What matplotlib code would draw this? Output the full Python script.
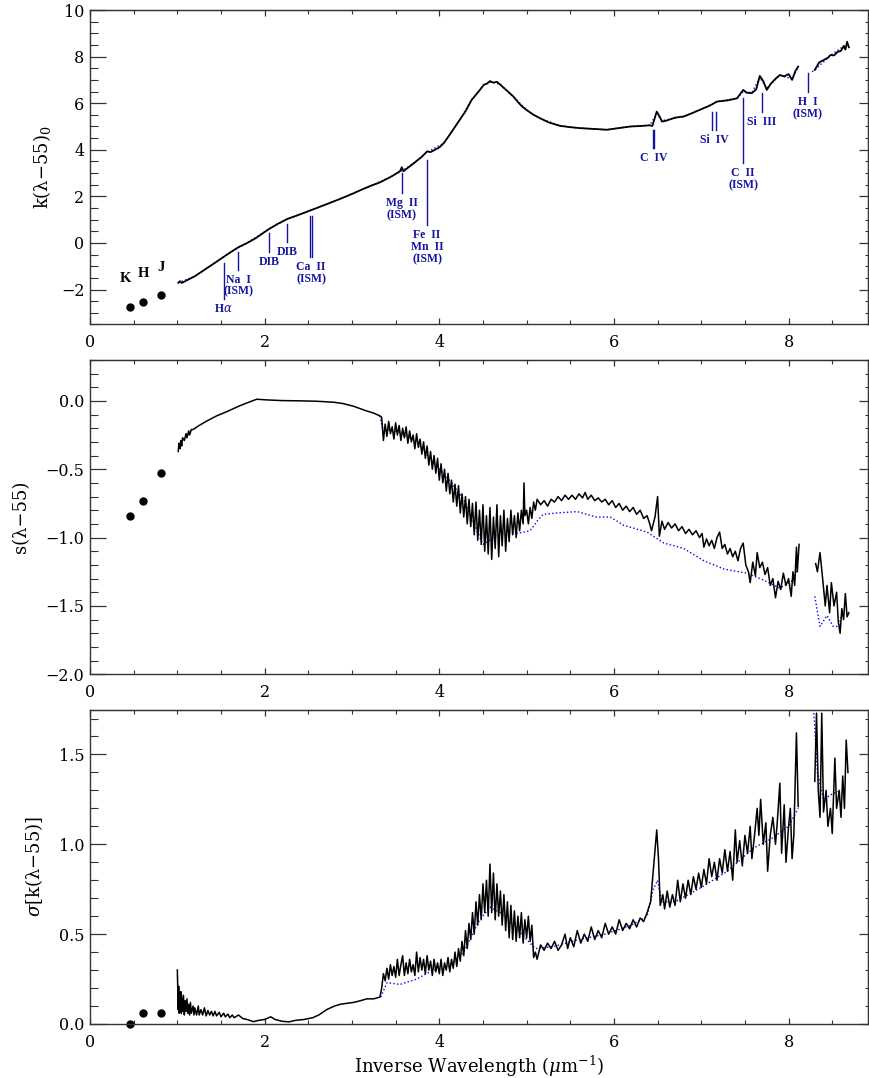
import numpy as np
import matplotlib
matplotlib.use("Agg")
import matplotlib.pyplot as plt
from matplotlib.ticker import MultipleLocator, FuncFormatter

plt.rcParams['font.family'] = ['DejaVu Serif']
plt.rcParams['mathtext.fontset'] = 'dejavuserif'

nan = np.nan

# ========================
# datos
# ========================

# fotometria K, H, J
x_khj = [0.46, 0.61, 0.81]
nombres_khj = ["K", "H", "J"]
k_khj = [-2.74, -2.53, -2.25]
s_khj = [-0.84, -0.73, -0.53]
sig_khj = [0.0, 0.06, 0.06]

# panel 1: k(lambda-55)_0
x_k = [1.01, 1.03, 1.05, 1.10, 1.20, 1.30, 1.40, 1.53, 1.60, 1.70, 1.80, 1.90, 2.00, 2.05,
       2.15, 2.26, 2.40, 2.54, 2.70, 2.85, 2.98, 3.10, 3.20, 3.32, 3.45, 3.55, 3.57, 3.59,
       3.70, 3.80, 3.86, 3.90, 4.00, 4.05, 4.12, 4.22, 4.30, 4.37, 4.45, 4.51, 4.55, 4.58,
       4.62, 4.66, 4.70, 4.75, 4.80, 4.85, 4.90, 4.95, 5.00, 5.07, 5.15, 5.25, 5.38, 5.50,
       5.61, 5.75, 5.92, 6.05, 6.19, 6.30, 6.41, 6.44, 6.49, 6.52, 6.55, 6.60, 6.70, 6.80,
       6.90, 7.03, 7.10, 7.18, 7.30, 7.41, 7.48, 7.52, 7.58, 7.63, 7.67, 7.71, 7.75, 7.80,
       7.85, 7.90, 7.95, 8.00, 8.04, 8.08, 8.11, 8.20, 8.30, 8.35, 8.40, 8.45, 8.48, 8.52,
       8.56, 8.60, 8.63, 8.65, 8.67, 8.69]
k_val = [-1.71, -1.64, -1.72, -1.62, -1.43, -1.18, -0.93, -0.60, -0.42, -0.18, 0.00, 0.21,
         0.47, 0.60, 0.82, 1.03, 1.22, 1.42, 1.65, 1.87, 2.07, 2.27, 2.43, 2.60, 2.85, 3.08,
         3.25, 3.08, 3.40, 3.70, 3.93, 3.90, 4.10, 4.28, 4.65, 5.21, 5.65, 6.14, 6.50, 6.79,
         6.85, 6.95, 6.88, 6.92, 6.79, 6.62, 6.45, 6.28, 6.05, 5.85, 5.71, 5.52, 5.36, 5.18,
         5.03, 4.97, 4.93, 4.90, 4.86, 4.93, 5.00, 5.02, 5.05, 5.02, 5.64, 5.45, 5.21, 5.25,
         5.38, 5.43, 5.58, 5.79, 5.90, 6.07, 6.12, 6.21, 6.57, 6.45, 6.43, 6.60, 7.17, 6.95,
         6.57, 6.85, 7.05, 7.21, 7.15, 7.25, 7.00, 7.40, 7.57, nan, 7.43, 7.75, 7.85, 7.95,
         8.07, 8.05, 8.20, 8.25, 8.45, 8.30, 8.64, 8.40]

x_k_mod = [1.01, 1.20, 1.40, 1.60, 1.80, 2.05, 2.26, 2.54, 2.85, 3.20, 3.45, 3.55, 3.70,
           3.86, 4.05, 4.22, 4.37, 4.51, 4.60, 4.70, 4.85, 5.00, 5.15, 5.38, 5.61, 5.92,
           6.19, 6.41, 6.49, 6.55, 6.80, 7.03, 7.18, 7.41, 7.48, 7.58, 7.67, 7.75, 7.90,
           8.04, 8.11, 8.20, 8.27, 8.30, 8.48, 8.67]
k_mod = [-1.71, -1.43, -0.93, -0.42, 0.00, 0.60, 1.03, 1.42, 1.87, 2.43, 2.85, 3.05, 3.40,
         3.90, 4.28, 5.21, 6.14, 6.79, 6.92, 6.79, 6.28, 5.71, 5.36, 5.03, 4.93, 4.86,
         5.00, 5.05, 5.55, 5.25, 5.43, 5.79, 6.07, 6.21, 6.50, 6.45, 7.10, 6.65, 7.20,
         7.05, 7.55, nan, 7.35, 7.43, 8.05, 8.55]

# lineas espectrales marcadas
lineas_nombre = [r"H$\alpha$", "Na  I\n(ISM)", "DIB", "DIB", "Ca  II\n(ISM)", "Mg  II\n(ISM)",
                 "Fe  II\nMn  II\n(ISM)", "C  IV", "Si  IV", "C  II\n(ISM)", "Si  III",
                 "H  I\n(ISM)"]
lineas_x = [[1.53], [1.70], [2.05], [2.26], [2.52, 2.545], [3.57], [3.86], [6.445, 6.46],
            [7.12, 7.17], [7.48], [7.69], [8.22]]
lineas_arriba = [-0.84, -0.37, 0.44, 0.83, 1.17, 3.01, 3.57, 4.86, 5.63, 6.23, 6.44, 7.30]
lineas_abajo = [-2.39, -1.14, -0.37, 0.06, -0.59, 2.16, 0.78, 4.08, 4.86, 3.44, 5.63, 6.49]

# panel 2: s(lambda-55)
x_s = [1.01, 1.02, 1.03, 1.04, 1.05, 1.06, 1.08, 1.10, 1.11, 1.13, 1.14, 1.16, 1.18, 1.25,
       1.33, 1.45, 1.57, 1.70, 1.79, 1.91, 2.02, 2.20, 2.41, 2.60, 2.79, 2.90, 3.02, 3.15,
       3.25, 3.32,
       3.34, 3.36, 3.38, 3.40, 3.42, 3.44, 3.46, 3.48, 3.50, 3.52, 3.54, 3.56, 3.58, 3.60,
       3.62, 3.64, 3.66, 3.68, 3.70, 3.72, 3.74, 3.76, 3.78, 3.80, 3.82, 3.84, 3.86, 3.88,
       3.90, 3.92, 3.94, 3.96, 3.98, 4.00, 4.02, 4.04, 4.06, 4.08, 4.10, 4.12, 4.14, 4.16,
       4.18, 4.20, 4.22, 4.24, 4.26, 4.28, 4.30, 4.32, 4.34, 4.36, 4.38, 4.40, 4.42, 4.44,
       4.46, 4.48, 4.50, 4.52, 4.54, 4.56, 4.58, 4.60, 4.62, 4.64, 4.66, 4.68, 4.70, 4.72,
       4.74, 4.76, 4.78, 4.80, 4.82, 4.84, 4.86, 4.88, 4.90, 4.92, 4.94, 4.96, 4.97, 4.98,
       5.00, 5.02, 5.04, 5.06, 5.08, 5.10, 5.12,
       5.16, 5.20, 5.24, 5.28, 5.32, 5.36, 5.40, 5.44, 5.48, 5.52, 5.56, 5.60, 5.64, 5.67,
       5.70, 5.74, 5.78, 5.82, 5.86, 5.90, 5.94, 5.98, 6.02, 6.06, 6.10, 6.14, 6.18, 6.22,
       6.26, 6.30, 6.34, 6.38, 6.41, 6.43, 6.47, 6.50, 6.52, 6.55, 6.58, 6.62, 6.66, 6.70,
       6.74, 6.78, 6.82, 6.86, 6.90, 6.94, 6.98, 7.01, 7.03, 7.06, 7.09, 7.12, 7.15, 7.18,
       7.21, 7.24, 7.27, 7.30, 7.33, 7.36, 7.39, 7.42, 7.45, 7.48, 7.51, 7.54, 7.56, 7.59,
       7.62, 7.64, 7.67, 7.70, 7.73, 7.76, 7.79, 7.82, 7.85, 7.88, 7.91, 7.94, 7.97, 8.00,
       8.03, 8.05, 8.07, 8.09, 8.10, 8.12, 8.20,
       8.31, 8.33, 8.36, 8.39, 8.42, 8.44, 8.47, 8.49, 8.52, 8.55, 8.57, 8.59, 8.61, 8.63,
       8.65, 8.67, 8.69]
s_val = [-0.37, -0.31, -0.35, -0.29, -0.33, -0.27, -0.29, -0.24, -0.27, -0.22, -0.25,
         -0.21, -0.21, -0.18, -0.15, -0.11, -0.078, -0.04, -0.017, 0.012, 0.007, 0.002,
         0.0, -0.003, -0.01, -0.02, -0.04, -0.07, -0.09, -0.11,
         -0.12, -0.29, -0.17, -0.26, -0.15, -0.24, -0.19, -0.28, -0.16, -0.25, -0.18, -0.29,
         -0.20, -0.27, -0.19, -0.31, -0.22, -0.30, -0.25, -0.35, -0.24, -0.34, -0.28, -0.39,
         -0.30, -0.42, -0.33, -0.47, -0.37, -0.50, -0.40, -0.53, -0.42, -0.58, -0.46, -0.60,
         -0.50, -0.66, -0.53, -0.68, -0.58, -0.74, -0.61, -0.77, -0.62, -0.82, -0.68, -0.85,
         -0.70, -0.90, -0.72, -0.92, -0.75, -0.98, -0.74, -1.02, -0.80, -1.05, -0.76, -1.10,
         -0.84, -1.12, -0.78, -1.16, -0.85, -1.08, -0.76, -1.14, -0.84, -1.06, -0.80, -1.10,
         -0.86, -1.03, -0.80, -0.98, -0.84, -1.00, -0.82, -0.95, -0.80, -0.90, -0.60, -0.84,
         -0.80, -0.90, -0.78, -0.86, -0.74, -0.80, -0.72,
         -0.76, -0.73, -0.77, -0.72, -0.74, -0.70, -0.73, -0.69, -0.72, -0.69, -0.72, -0.68,
         -0.71, -0.67, -0.72, -0.69, -0.73, -0.71, -0.74, -0.72, -0.76, -0.73, -0.78, -0.75,
         -0.80, -0.77, -0.81, -0.78, -0.83, -0.80, -0.86, -0.84, -0.90, -0.95, -0.85, -0.70,
         -0.99, -0.88, -0.94, -0.89, -0.93, -0.90, -0.95, -0.92, -0.97, -0.94, -0.98, -0.95,
         -1.00, -0.97, -1.07, -1.01, -1.06, -1.02, -1.08, -1.00, -0.96, -1.08, -1.05, -1.12,
         -1.08, -1.14, -1.10, -1.17, -1.08, -1.04, -1.20, -1.25, -1.33, -1.18, -1.28, -1.11,
         -1.22, -1.18, -1.27, -1.22, -1.35, -1.30, -1.44, -1.32, -1.38, -1.26, -1.35, -1.30,
         -1.43, -1.25, -1.35, -1.07, -1.25, -1.05, nan,
         -1.19, -1.25, -1.11, -1.30, -1.50, -1.35, -1.55, -1.33, -1.50, -1.40, -1.62, -1.70,
         -1.52, -1.60, -1.41, -1.58, -1.55]

x_s_mod = [3.32, 3.35, 3.55, 3.74, 3.93, 4.09, 4.28, 4.40, 4.50, 4.58, 4.66, 4.80, 4.89,
           5.04, 5.12, 5.19, 5.35, 5.58, 5.80, 5.96, 6.11, 6.38, 6.57, 6.80, 7.03, 7.26,
           7.52, 7.71, 7.90, 8.06, 8.10, 8.20, 8.30, 8.36, 8.44, 8.51, 8.57, 8.62]
s_mod = [-0.11, -0.20, -0.23, -0.30, -0.45, -0.56, -0.72, -0.90, -1.05, -1.02, -0.98,
         -0.96, -0.97, -0.95, -0.88, -0.83, -0.82, -0.81, -0.85, -0.85, -0.91, -0.96, -1.04,
         -1.08, -1.17, -1.23, -1.26, -1.31, -1.37, -1.31, -1.22, nan, -1.43, -1.65, -1.57,
         -1.65, -1.65, -1.55]

# panel 3: sigma[k(lambda-55)]
x_sig = [1.00, 1.01, 1.015, 1.02, 1.025, 1.03, 1.04, 1.045, 1.05, 1.06, 1.07, 1.08, 1.09,
         1.10, 1.11, 1.12, 1.13, 1.14, 1.15, 1.16, 1.18, 1.19, 1.20, 1.22, 1.24, 1.25, 1.27,
         1.29, 1.31, 1.33, 1.35, 1.37, 1.39, 1.41, 1.43, 1.45, 1.48, 1.50, 1.53, 1.55, 1.58,
         1.60, 1.63, 1.65, 1.70, 1.75, 1.80, 1.87, 1.93, 2.00, 2.07, 2.12, 2.20, 2.28, 2.35,
         2.45, 2.55, 2.62, 2.71, 2.80, 2.87, 2.94, 3.02, 3.10, 3.17, 3.25, 3.32,
         3.34, 3.36, 3.38, 3.40, 3.42, 3.44, 3.46, 3.48, 3.50, 3.52, 3.54, 3.56, 3.58, 3.60,
         3.62, 3.64, 3.66, 3.68, 3.70, 3.72, 3.74, 3.76, 3.78, 3.80, 3.82, 3.84, 3.86, 3.88,
         3.90, 3.92, 3.94, 3.96, 3.98, 4.00, 4.02, 4.04, 4.06, 4.08, 4.10, 4.12, 4.14, 4.16,
         4.18, 4.20, 4.22, 4.24, 4.26, 4.28, 4.30, 4.32, 4.34, 4.36, 4.38, 4.40, 4.42, 4.44,
         4.46, 4.48, 4.50, 4.52, 4.54, 4.56, 4.58, 4.60, 4.62, 4.64, 4.66, 4.68, 4.70, 4.72,
         4.74, 4.76, 4.78, 4.80, 4.82, 4.84, 4.86, 4.88, 4.90, 4.92, 4.94, 4.96, 4.98, 5.00,
         5.02, 5.04, 5.06, 5.08, 5.10, 5.12,
         5.16, 5.20, 5.24, 5.28, 5.32, 5.36, 5.40, 5.44, 5.47, 5.50, 5.54, 5.58, 5.62, 5.66,
         5.70, 5.74, 5.78, 5.82, 5.86, 5.90, 5.94, 5.98, 6.02, 6.06, 6.10, 6.14, 6.18, 6.22,
         6.26, 6.30, 6.34, 6.38, 6.42, 6.45, 6.49, 6.51, 6.53, 6.56, 6.58, 6.61, 6.64, 6.67,
         6.70, 6.73, 6.76, 6.79, 6.82, 6.85, 6.88, 6.91, 6.94, 6.97, 7.00, 7.03, 7.06, 7.09,
         7.12, 7.15, 7.18, 7.21, 7.24, 7.27, 7.30, 7.33, 7.36, 7.39, 7.41, 7.44, 7.47, 7.50,
         7.53, 7.56, 7.58, 7.61, 7.64, 7.66, 7.68, 7.71, 7.74, 7.76, 7.79, 7.82, 7.85, 7.87,
         7.90, 7.92, 7.95, 7.97, 8.00, 8.02, 8.04, 8.06, 8.09, 8.11, 8.20,
         8.30, 8.32, 8.34, 8.36, 8.38, 8.40, 8.43, 8.45, 8.48, 8.50, 8.53, 8.55, 8.58, 8.60,
         8.62, 8.64, 8.66, 8.68]
sig_val = [0.30, 0.08, 0.21, 0.06, 0.17, 0.09, 0.18, 0.06, 0.15, 0.07, 0.16, 0.05, 0.13,
           0.07, 0.14, 0.06, 0.11, 0.05, 0.12, 0.06, 0.10, 0.05, 0.09, 0.05, 0.10, 0.05,
           0.08, 0.05, 0.09, 0.045, 0.075, 0.05, 0.07, 0.045, 0.07, 0.045, 0.065, 0.04,
           0.06, 0.04, 0.055, 0.035, 0.05, 0.035, 0.05, 0.03, 0.025, 0.013, 0.02, 0.025,
           0.04, 0.025, 0.015, 0.012, 0.02, 0.025, 0.035, 0.05, 0.08, 0.10, 0.11, 0.115,
           0.12, 0.13, 0.14, 0.14, 0.15,
           0.20, 0.28, 0.24, 0.31, 0.25, 0.33, 0.27, 0.32, 0.26, 0.36, 0.27, 0.33, 0.38, 0.27,
           0.34, 0.28, 0.36, 0.29, 0.33, 0.27, 0.40, 0.29, 0.37, 0.30, 0.36, 0.28, 0.38, 0.30,
           0.35, 0.27, 0.36, 0.29, 0.34, 0.28, 0.36, 0.27, 0.34, 0.30, 0.37, 0.29, 0.36, 0.31,
           0.40, 0.32, 0.42, 0.35, 0.46, 0.38, 0.52, 0.42, 0.56, 0.47, 0.62, 0.50, 0.68, 0.55,
           0.72, 0.58, 0.78, 0.62, 0.80, 0.60, 0.89, 0.62, 0.84, 0.58, 0.78, 0.60, 0.74, 0.55,
           0.72, 0.52, 0.68, 0.48, 0.66, 0.47, 0.63, 0.46, 0.60, 0.48, 0.62, 0.45, 0.58, 0.48,
           0.60, 0.46, 0.55, 0.37, 0.40, 0.36,
           0.44, 0.41, 0.45, 0.42, 0.46, 0.41, 0.44, 0.50, 0.42, 0.48, 0.43, 0.52, 0.45, 0.50,
           0.46, 0.54, 0.47, 0.52, 0.48, 0.56, 0.50, 0.54, 0.50, 0.58, 0.52, 0.56, 0.53, 0.58,
           0.54, 0.59, 0.57, 0.62, 0.68, 0.85, 1.08, 0.92, 0.66, 0.72, 0.64, 0.74, 0.65, 0.72,
           0.66, 0.80, 0.68, 0.78, 0.70, 0.80, 0.72, 0.82, 0.75, 0.84, 0.76, 0.86, 0.78, 0.92,
           0.82, 0.90, 0.80, 0.92, 0.84, 0.97, 0.85, 0.96, 0.80, 1.08, 0.90, 1.02, 0.88, 1.05,
           0.95, 1.10, 0.92, 1.05, 1.20, 1.05, 1.25, 1.00, 1.12, 0.85, 1.05, 1.15, 1.00, 1.12,
           1.34, 0.95, 1.22, 0.90, 1.10, 1.20, 0.92, 1.05, 1.62, 1.21, nan,
           1.35, 1.73, 1.30, 1.15, 1.73, 1.18, 1.30, 1.10, 1.20, 1.06, 1.48, 1.20, 1.30, 1.15,
           1.38, 1.20, 1.58, 1.40]

x_sig_mod = [3.33, 3.40, 3.55, 3.74, 3.93, 4.09, 4.28, 4.45, 4.58, 4.70, 4.85, 5.00, 5.10,
             5.30, 5.60, 5.90, 6.20, 6.38, 6.45, 6.50, 6.55, 6.70, 7.00, 7.30, 7.60, 7.80,
             8.00, 8.11, 8.20, 8.29, 8.33, 8.40, 8.50, 8.60]
sig_mod = [0.15, 0.23, 0.22, 0.25, 0.30, 0.31, 0.40, 0.57, 0.65, 0.62, 0.55, 0.47, 0.42,
           0.43, 0.47, 0.50, 0.55, 0.60, 0.75, 0.80, 0.68, 0.68, 0.76, 0.85, 0.98, 1.03,
           1.10, 1.20, nan, 1.73, 1.40, 1.25, 1.28, 1.30]

# ========================
# figura
# ========================

azul = '#1414a0'
gris = '#333333'

fig = plt.figure(figsize=(8.69, 10.78), dpi=100)
izq, ancho, alto = 0.1036, 0.8953, 0.2917
ax1 = fig.add_axes([izq, 0.6990, ancho, alto])
ax2 = fig.add_axes([izq, 0.3745, ancho, alto])
ax3 = fig.add_axes([izq, 0.0501, ancho, alto])


def menos(fmt):
    return FuncFormatter(lambda v, p: (fmt % v).replace('-', '\u2212'))


def estilo(ax, ylim, y_mayor, y_menor, fmt):
    ax.set_xlim(0, 8.91)
    ax.set_ylim(*ylim)
    ax.xaxis.set_major_locator(MultipleLocator(2))
    ax.xaxis.set_minor_locator(MultipleLocator(0.5))
    ax.yaxis.set_major_locator(MultipleLocator(y_mayor))
    ax.yaxis.set_minor_locator(MultipleLocator(y_menor))
    ax.yaxis.set_major_formatter(menos(fmt))
    ax.tick_params(axis='x', which='major', direction='in', length=4.3, width=0.9,
                   color=gris, labelsize=11.5, pad=7)
    ax.tick_params(axis='x', which='minor', direction='in', length=2.8, width=0.8, color=gris)
    ax.tick_params(axis='y', which='major', direction='in', length=11.5, width=0.9,
                   color=gris, labelsize=11.5, pad=4)
    ax.tick_params(axis='y', which='minor', direction='in', length=5.8, width=0.8, color=gris)
    for sp in ax.spines.values():
        sp.set_color(gris)
        sp.set_linewidth(1.0)
    # ticks arriba y a la derecha
    arriba = ax.secondary_xaxis('top')
    arriba.xaxis.set_major_locator(MultipleLocator(2))
    arriba.xaxis.set_minor_locator(MultipleLocator(0.5))
    arriba.tick_params(which='major', direction='in', length=4.3, width=0.9, color=gris,
                       labeltop=False)
    arriba.tick_params(which='minor', direction='in', length=2.8, width=0.8, color=gris)
    arriba.spines['top'].set_color(gris)
    derecha = ax.secondary_yaxis('right')
    derecha.yaxis.set_major_locator(MultipleLocator(y_mayor))
    derecha.yaxis.set_minor_locator(MultipleLocator(y_menor))
    derecha.tick_params(which='major', direction='in', length=6.5, width=0.9, color=gris,
                        labelright=False)
    derecha.tick_params(which='minor', direction='in', length=2.2, width=0.8, color=gris)
    derecha.spines['right'].set_color(gris)


# Panel 1
estilo(ax1, (-3.5, 10), 2, 0.5, '%d')
ax1.plot(x_k_mod, k_mod, ls=':', color='blue', lw=1.0)
ax1.plot(x_k, k_val, color='black', lw=1.3)
ax1.plot(x_khj, k_khj, 'o', color='black', ms=5)
for xx, yy, nom in zip([0.41, 0.61, 0.81], [-1.53, -1.32, -1.06], nombres_khj):
    ax1.text(xx, yy, nom, ha='center', va='center', fontsize=10.5, fontweight='bold',
             family='Liberation Serif')
for nom, xs, y_arr, y_ab in zip(lineas_nombre, lineas_x, lineas_arriba, lineas_abajo):
    for xx in xs:
        ax1.plot([xx, xx], [y_arr, y_ab], color=azul, lw=1.0)
    ax1.annotate(nom, xy=(np.mean(xs), y_ab), xytext=(0, -3), textcoords='offset points',
                 ha='center', va='top', color=azul, fontsize=8.5, fontweight='bold',
                 family='Liberation Serif', linespacing=1.0)
ax1.set_ylabel('k(\u03bb\u221255)$_0$', fontsize=13)
ax1.yaxis.set_label_coords(-0.048, 0.5)

# Panel 2
estilo(ax2, (-2.0, 0.3), 0.5, 0.1, '%.1f')
ax2.plot(x_s_mod, s_mod, ls=':', color='blue', lw=1.0)
ax2.plot(x_s, s_val, color='black', lw=1.1)
ax2.plot(x_khj, s_khj, 'o', color='black', ms=5)
ax2.set_ylabel('s(\u03bb\u221255)', fontsize=13)
ax2.yaxis.set_label_coords(-0.077, 0.5)

# Panel 3
estilo(ax3, (0, 1.75), 0.5, 0.1, '%.1f')
ax3.plot(x_sig_mod, sig_mod, ls=':', color='blue', lw=1.0)
ax3.plot(x_sig, sig_val, color='black', lw=1.1)
ax3.plot(x_khj, sig_khj, 'o', color='black', ms=5, clip_on=False)
ax3.set_ylabel('$\\sigma$[k(\u03bb\u221255)]', fontsize=13)
ax3.yaxis.set_label_coords(-0.058, 0.5)
ax3.set_xlabel(r'Inverse Wavelength ($\mu$m$^{-1}$)', fontsize=13, labelpad=2)

fig.savefig('out.png', dpi=100)
